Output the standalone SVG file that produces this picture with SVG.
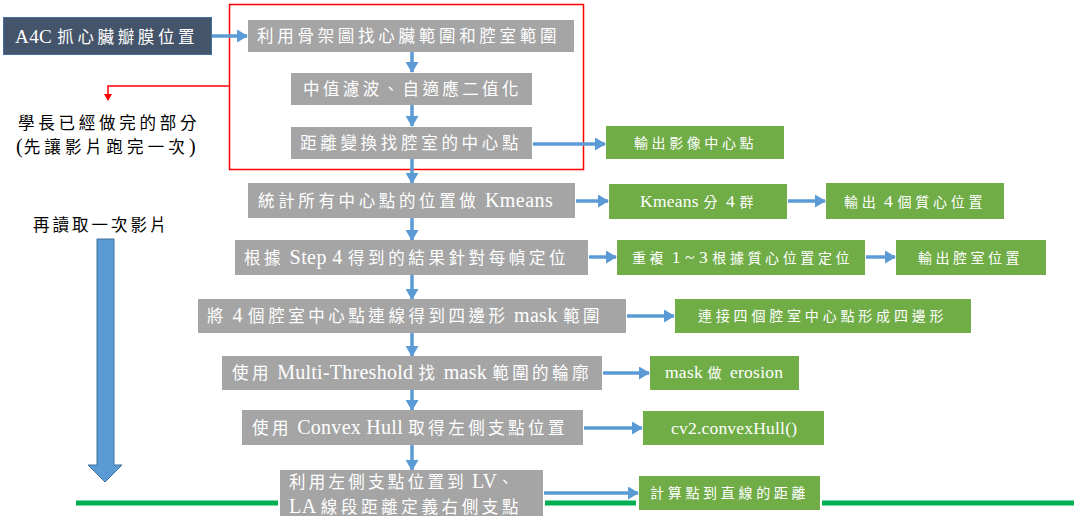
<svg xmlns="http://www.w3.org/2000/svg" width="1074" height="524" viewBox="0 0 1074 524">
  <style>
    text { fill: #FFFFFF; }
    text.k { fill: #000000; }
    .c  { font-family: "Noto Sans CJK TC", "Noto Sans CJK SC", sans-serif; font-size: 16.5px; letter-spacing: 3.5px; }
    .l  { font-family: "Liberation Serif", "DejaVu Serif", serif; font-size: 20px; letter-spacing: 0.3px; }
    .cs { font-family: "Noto Sans CJK TC", "Noto Sans CJK SC", sans-serif; font-size: 14px; letter-spacing: 3.5px; }
    .ls { font-family: "Liberation Serif", "DejaVu Serif", serif; font-size: 17.5px; }
    .gray { fill: #A5A5A5; }
    .green { fill: #70AD47; }
    .flow { stroke: #5B9BD5; stroke-width: 3.5; fill: none; }
  </style>
  <defs>
    <marker id="ah" markerUnits="userSpaceOnUse" markerWidth="11" markerHeight="13" refX="10" refY="6.5" orient="auto">
      <path d="M0,0 L11,6.5 L0,13 Z" fill="#5B9BD5"/>
    </marker>
    <marker id="ahRed" markerUnits="userSpaceOnUse" markerWidth="7" markerHeight="8" refX="6" refY="4" orient="auto">
      <path d="M0,0 L7,4 L0,8 Z" fill="#FF0000"/>
    </marker>
  </defs>

  <!-- frame around the finished part -->
  <rect x="229.5" y="4.5" width="354" height="165" fill="none" stroke="#FF0000" stroke-width="1.5"/>

  <!-- baseline rule -->
  <g id="rule" stroke="#00B050" stroke-width="5">
    <line x1="76" y1="503" x2="278" y2="503"/>
    <line x1="545" y1="503" x2="636" y2="503"/>
    <line x1="822" y1="503" x2="1074" y2="503"/>
  </g>

  <g id="connectors">
    <line class="flow" x1="212" y1="36" x2="247" y2="36" marker-end="url(#ah)"/>
    <line class="flow" x1="412" y1="52" x2="412" y2="72" marker-end="url(#ah)"/>
    <line class="flow" x1="412" y1="105" x2="412" y2="126" marker-end="url(#ah)"/>
    <line class="flow" x1="412" y1="159" x2="412" y2="183" marker-end="url(#ah)"/>
    <line class="flow" x1="412" y1="218" x2="412" y2="240" marker-end="url(#ah)"/>
    <line class="flow" x1="412" y1="275" x2="412" y2="299" marker-end="url(#ah)"/>
    <line class="flow" x1="412" y1="333" x2="412" y2="356" marker-end="url(#ah)"/>
    <line class="flow" x1="412" y1="390" x2="412" y2="410" marker-end="url(#ah)"/>
    <line class="flow" x1="412" y1="445" x2="412" y2="470" marker-end="url(#ah)"/>
    <line class="flow" x1="533" y1="144" x2="605" y2="144" marker-end="url(#ah)"/>
    <line class="flow" x1="576" y1="201" x2="608" y2="201" marker-end="url(#ah)"/>
    <line class="flow" x1="788" y1="201" x2="825" y2="201" marker-end="url(#ah)"/>
    <line class="flow" x1="589" y1="257" x2="616" y2="257" marker-end="url(#ah)"/>
    <line class="flow" x1="866" y1="257" x2="895" y2="257" marker-end="url(#ah)"/>
    <line class="flow" x1="627" y1="316" x2="674" y2="316" marker-end="url(#ah)"/>
    <line class="flow" x1="603" y1="373" x2="649" y2="373" marker-end="url(#ah)"/>
    <line class="flow" x1="584" y1="428" x2="642" y2="428" marker-end="url(#ah)"/>
    <line class="flow" x1="544" y1="493" x2="638" y2="493" marker-end="url(#ah)"/>
    <polyline points="229,86 108,86 108,100" fill="none" stroke="#FF0000" stroke-width="1.5" marker-end="url(#ahRed)"/>
  </g>

  <!-- input -->
  <g id="n-a4c">
    <rect x="3.5" y="17.5" width="208" height="37" fill="#44546A" stroke="#41719C" stroke-width="1"/>
    <text x="15" y="42.5" textLength="183" lengthAdjust="spacing"><tspan class="l" style="font-size:19px">A4C </tspan><tspan class="c">抓心臟瓣膜位置</tspan></text>
  </g>

  <!-- notes -->
  <g id="n-note">
    <text class="k" x="18" y="128.5" textLength="182" lengthAdjust="spacing"><tspan class="c">學長已經做完的部分</tspan></text>
    <text class="k" x="16" y="152.5" textLength="180" lengthAdjust="spacing"><tspan class="l">(</tspan><tspan class="c">先讓影片跑完一次</tspan><tspan class="l">)</tspan></text>
  </g>
  <g id="n-reread">
    <text class="k" x="33" y="231" textLength="137" lengthAdjust="spacing"><tspan class="c">再讀取一次影片</tspan></text>
    <path d="M97,239 H114 V465 H122 L105,482 L88,465 H97 Z" fill="#5B9BD5" stroke="#41719C" stroke-width="1"/>
  </g>

  <!-- main steps -->
  <g id="n-step1">
    <rect class="gray" x="248" y="20" width="326" height="32"/>
    <text x="257" y="42" textLength="303" lengthAdjust="spacing"><tspan class="c">利用骨架圖找心臟範圍和腔室範圍</tspan></text>
  </g>
  <g id="n-step2">
    <rect class="gray" x="291" y="73" width="241" height="32"/>
    <text x="303" y="95" textLength="219" lengthAdjust="spacing"><tspan class="c">中值濾波、自適應二值化</tspan></text>
  </g>
  <g id="n-step3">
    <rect class="gray" x="291" y="127" width="241" height="32"/>
    <text x="300" y="149" textLength="222" lengthAdjust="spacing"><tspan class="c">距離變換找腔室的中心點</tspan></text>
  </g>
  <g id="n-out-center">
    <rect class="green" x="606" y="126" width="178" height="33"/>
    <text x="634" y="147.5" textLength="123" lengthAdjust="spacing"><tspan class="cs">輸出影像中心點</tspan></text>
  </g>

  <g id="n-step4">
    <rect class="gray" x="248" y="183" width="327" height="35"/>
    <text x="258" y="207" textLength="295" lengthAdjust="spacing"><tspan class="c">統計所有中心點的位置做</tspan><tspan class="l"> Kmeans</tspan></text>
  </g>
  <g id="n-kmeans">
    <rect class="green" x="609" y="184" width="178" height="35"/>
    <text x="640" y="207" textLength="117" lengthAdjust="spacing"><tspan class="ls">Kmeans </tspan><tspan class="cs">分</tspan><tspan class="ls"> 4 </tspan><tspan class="cs">群</tspan></text>
  </g>
  <g id="n-out-centroid">
    <rect class="green" x="826" y="183" width="178" height="36"/>
    <text x="844" y="207" textLength="142" lengthAdjust="spacing"><tspan class="cs">輸出</tspan><tspan class="ls"> 4 </tspan><tspan class="cs">個質心位置</tspan></text>
  </g>

  <g id="n-step5">
    <rect class="gray" x="235" y="240" width="353" height="35"/>
    <text x="244" y="264" textLength="325" lengthAdjust="spacing"><tspan class="c">根據</tspan><tspan class="l"> Step 4 </tspan><tspan class="c">得到的結果針對每幀定位</tspan></text>
  </g>
  <g id="n-repeat">
    <rect class="green" x="617" y="240" width="248" height="35"/>
    <text x="632" y="263" textLength="221" lengthAdjust="spacing"><tspan class="cs">重複</tspan><tspan class="ls"> 1 ~ 3 </tspan><tspan class="cs">根據質心位置定位</tspan></text>
  </g>
  <g id="n-out-chamber">
    <rect class="green" x="896" y="240" width="150" height="35"/>
    <text x="918" y="263" textLength="105" lengthAdjust="spacing"><tspan class="cs">輸出腔室位置</tspan></text>
  </g>

  <g id="n-step6">
    <rect class="gray" x="198" y="299" width="428" height="34"/>
    <text x="207" y="322" textLength="396" lengthAdjust="spacing"><tspan class="c">將</tspan><tspan class="l"> 4 </tspan><tspan class="c">個腔室中心點連線得到四邊形</tspan><tspan class="l"> mask </tspan><tspan class="c">範圍</tspan></text>
  </g>
  <g id="n-quad">
    <rect class="green" x="675" y="299" width="296" height="34"/>
    <text x="698" y="321" textLength="249" lengthAdjust="spacing"><tspan class="cs">連接四個腔室中心點形成四邊形</tspan></text>
  </g>

  <g id="n-step7">
    <rect class="gray" x="222" y="356" width="380" height="34"/>
    <text x="232" y="379" textLength="360" lengthAdjust="spacing"><tspan class="c">使用</tspan><tspan class="l"> Multi-Threshold </tspan><tspan class="c">找</tspan><tspan class="l"> mask </tspan><tspan class="c">範圍的輪廓</tspan></text>
  </g>
  <g id="n-erosion">
    <rect class="green" x="650" y="356" width="149" height="34"/>
    <text x="665" y="378" textLength="118" lengthAdjust="spacing"><tspan class="ls">mask </tspan><tspan class="cs">做</tspan><tspan class="ls"> erosion</tspan></text>
  </g>

  <g id="n-step8">
    <rect class="gray" x="242" y="410" width="341" height="35"/>
    <text x="252" y="434" textLength="316" lengthAdjust="spacing"><tspan class="c">使用</tspan><tspan class="l"> Convex Hull </tspan><tspan class="c">取得左側支點位置</tspan></text>
  </g>
  <g id="n-hull">
    <rect class="green" x="643" y="411" width="181" height="34"/>
    <text x="671" y="433.5" textLength="126" lengthAdjust="spacing"><tspan class="ls">cv2.convexHull()</tspan></text>
  </g>

  <g id="n-step9">
    <rect class="gray" x="280" y="470" width="263" height="46"/>
    <text x="289" y="488" textLength="228" lengthAdjust="spacing"><tspan class="c">利用左側支點位置到</tspan><tspan class="l"> LV</tspan><tspan class="c">、</tspan></text>
    <text x="289" y="513" textLength="233" lengthAdjust="spacing"><tspan class="l">LA </tspan><tspan class="c">線段距離定義右側支點</tspan></text>
  </g>
  <g id="n-dist">
    <rect class="green" x="639" y="476" width="181" height="34"/>
    <text x="650" y="498" textLength="159" lengthAdjust="spacing"><tspan class="cs">計算點到直線的距離</tspan></text>
  </g>
</svg>
